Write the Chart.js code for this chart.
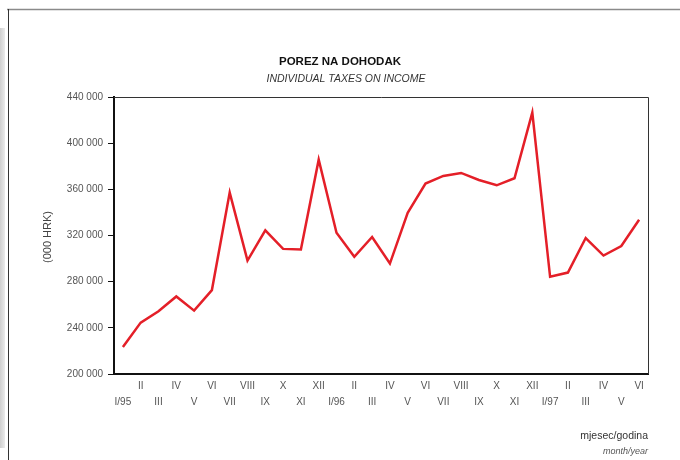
<!DOCTYPE html>
<html>
<head>
<meta charset="utf-8">
<script src="https://cdn.jsdelivr.net/npm/chart.js@4"></script>
<style>
html,body{margin:0;padding:0;background:#fff;}
#wrap{width:680px;height:460px;position:relative;}
</style>
</head>
<body>
<div id="wrap"><canvas id="c" width="680" height="460"></canvas></div>
<script>
const categories = ['I/95','II','III','IV','V','VI','VII','VIII','IX','X','XI','XII',
  'I/96','II','III','IV','V','VI','VII','VIII','IX','X','XI','XII',
  'I/97','II','III','IV','V','VI'];
const taxValues = [223300,244500,254300,267200,254900,272700,357200,298300,324400,308400,307800,385700,
  322400,301500,318700,295700,339700,365000,371600,374200,368100,363500,369600,426500,
  284200,287900,317800,302600,310900,333600];
const yTicks = [200000,240000,280000,320000,360000,400000,440000];
const titleText = 'POREZ NA DOHODAK';
const subtitleText = 'INDIVIDUAL TAXES ON INCOME';
const yTitle = "(000 HRK)";
const xTitle = 'mjesec/godina';
const xSubTitle = 'month/year';

const FONT = "'Liberation Sans', Arial, sans-serif";

const decor = {
  id: 'decor',
  beforeDraw(chart) {
    const ctx = chart.ctx;
    ctx.save();
    const g = ctx.createLinearGradient(0,0,6,0);
    g.addColorStop(0,'#cfcfcf'); g.addColorStop(1,'#f0f0f0');
    ctx.fillStyle = g;
    ctx.fillRect(0,28,5,420);
    ctx.strokeStyle = '#8a8a8a'; ctx.lineWidth = 1.5;
    ctx.beginPath(); ctx.moveTo(7,9.5); ctx.lineTo(680,9.5); ctx.stroke();
    ctx.strokeStyle = '#333'; ctx.lineWidth = 1;
    ctx.beginPath(); ctx.moveTo(8.5,9); ctx.lineTo(8.5,460); ctx.stroke();
    ctx.restore();
  },
  afterDraw(chart) {
    const ctx = chart.ctx;
    const a = chart.chartArea;
    ctx.save();
    ctx.strokeStyle = '#333'; ctx.lineWidth = 1;
    ctx.beginPath();
    ctx.moveTo(a.left, a.top + 0.5); ctx.lineTo(a.right + 0.5, a.top + 0.5); ctx.lineTo(a.right + 0.5, a.bottom);
    ctx.stroke();
    ctx.textAlign = 'center'; ctx.textBaseline = 'middle';
    ctx.fillStyle = '#111';
    ctx.font = "bold 11.5px " + FONT;
    ctx.fillText(titleText, 340, 62);
    ctx.fillStyle = '#333';
    ctx.font = "italic 10.5px " + FONT;
    ctx.fillText(subtitleText, 346, 79);
    ctx.save();
    ctx.translate(48, 237);
    ctx.rotate(-Math.PI/2);
    ctx.fillStyle = '#444';
    ctx.font = "11px " + FONT;
    ctx.fillText(yTitle, 0, 0);
    ctx.restore();
    ctx.textAlign = 'right';
    ctx.fillStyle = '#333';
    ctx.font = "10.5px " + FONT;
    ctx.fillText(xTitle, 648, 436);
    ctx.fillStyle = '#555';
    ctx.font = "italic 9px " + FONT;
    ctx.fillText(xSubTitle, 648, 451);
    ctx.restore();
  }
};

new Chart(document.getElementById('c'), {
  type: 'line',
  data: {
    labels: categories.map((c, i) => i % 2 === 0 ? ['', c] : [c]),
    datasets: [{
      data: taxValues,
      borderColor: '#e41f28',
      borderWidth: 2.5,
      pointRadius: 0,
      tension: 0,
      fill: false
    }]
  },
  options: {
    responsive: false,
    animation: false,
    layout: { padding: { left: 0, right: 32, top: 97, bottom: 40 } },
    plugins: { legend: { display: false }, tooltip: { enabled: false } },
    scales: {
      x: {
        offset: true,
        afterFit(s) { s.height = 46; },
        grid: { display: false, drawTicks: false, offset: false },
        border: { display: true, color: '#111', width: 2 },
        ticks: {
          autoSkip: false, maxRotation: 0, minRotation: 0,
          color: '#555', padding: 4,
          font: { family: FONT, size: 10, lineHeight: 1.6 }
        }
      },
      y: {
        min: 200000, max: 440000,
        afterFit(s) { s.width = 114; },
        afterBuildTicks(s) { s.ticks = yTicks.map(v => ({ value: v })); },
        grid: { drawOnChartArea: false, drawTicks: true, tickLength: 6, tickColor: '#111', tickWidth: 1 },
        border: { display: true, color: '#111', width: 2 },
        ticks: {
          color: '#555', padding: 5,
          font: { family: FONT, size: 10 },
          callback: v => String(v).replace(/\B(?=(\d{3})+(?!\d))/g, ' ')
        }
      }
    }
  },
  plugins: [decor]
});
</script>
</body>
</html>
